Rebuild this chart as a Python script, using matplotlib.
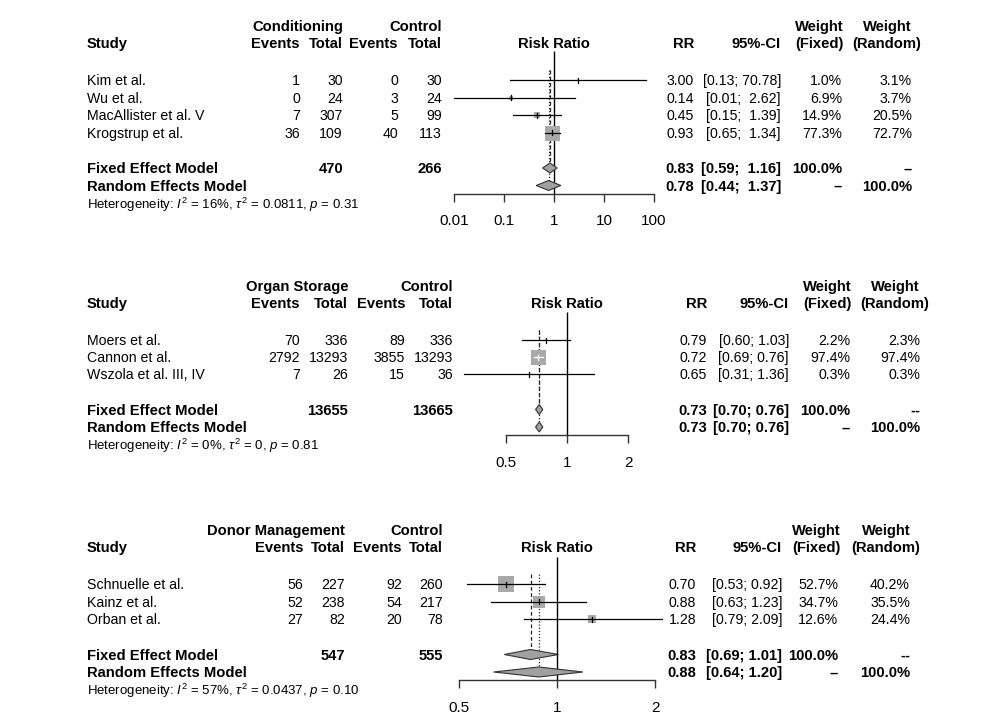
import numpy as np
import matplotlib
matplotlib.use('Agg')
from matplotlib import pyplot as plt
from matplotlib.ticker import NullLocator

plt.rcParams['font.family'] = ['Liberation Sans', 'DejaVu Sans']
plt.rcParams['mathtext.fontset'] = 'custom'
plt.rcParams['mathtext.rm'] = 'Liberation Sans'
plt.rcParams['mathtext.it'] = 'Liberation Sans:italic'
plt.rcParams['mathtext.bf'] = 'Liberation Sans:bold'

### Panel 1: conditioning ###
cond_group = 'Conditioning'
cond_studies = ['Kim et al.', 'Wu et al.', 'MacAllister et al. V', 'Krogstrup et al.']
cond_events = [1, 0, 7, 36]
cond_total = [30, 24, 307, 109]
cond_ctrl_events = [0, 3, 5, 40]
cond_ctrl_total = [30, 24, 99, 113]
cond_rr = [3.00, 0.14, 0.45, 0.93]
cond_lower = [0.13, 0.01, 0.15, 0.65]
cond_upper = [70.78, 2.62, 1.39, 1.34]
cond_w_fixed = [1.0, 6.9, 14.9, 77.3]
cond_w_random = [3.1, 3.7, 20.5, 72.7]
cond_fixed = [0.83, 0.59, 1.16]
cond_random = [0.78, 0.44, 1.37]
cond_n = [470, 266]
cond_dashes = ['\u2013', '\u2013']
cond_het = r'Heterogeneity: $I^2$ = 16%, $\tau^2$ = 0.0811, $p$ = 0.31'
cond_ticks = [0.01, 0.1, 1, 10, 100]
cond_ticklabels = ['0.01', '0.1', '1', '10', '100']

### Panel 2: organ storage ###
stor_group = 'Organ Storage'
stor_studies = ['Moers et al.', 'Cannon et al.', 'Wszola et al. III, IV']
stor_events = [70, 2792, 7]
stor_total = [336, 13293, 26]
stor_ctrl_events = [89, 3855, 15]
stor_ctrl_total = [336, 13293, 36]
stor_rr = [0.79, 0.72, 0.65]
stor_lower = [0.60, 0.69, 0.31]
stor_upper = [1.03, 0.76, 1.36]
stor_w_fixed = [2.2, 97.4, 0.3]
stor_w_random = [2.3, 97.4, 0.3]
stor_fixed = [0.73, 0.70, 0.76]
stor_random = [0.73, 0.70, 0.76]
stor_n = [13655, 13665]
stor_dashes = ['--', '\u2013']
stor_het = r'Heterogeneity: $I^2$ = 0%, $\tau^2$ = 0, $p$ = 0.81'
stor_ticks = [0.5, 1, 2]
stor_ticklabels = ['0.5', '1', '2']

### Panel 3: donor management ###
don_group = 'Donor Management'
don_studies = ['Schnuelle et al.', 'Kainz et al.', 'Orban et al.']
don_events = [56, 52, 27]
don_total = [227, 238, 82]
don_ctrl_events = [92, 54, 20]
don_ctrl_total = [260, 217, 78]
don_rr = [0.70, 0.88, 1.28]
don_lower = [0.53, 0.63, 0.79]
don_upper = [0.92, 1.23, 2.09]
don_w_fixed = [52.7, 34.7, 12.6]
don_w_random = [40.2, 35.5, 24.4]
don_fixed = [0.83, 0.69, 1.01]
don_random = [0.88, 0.64, 1.20]
don_n = [547, 555]
don_dashes = ['--', '\u2013']
don_het = r'Heterogeneity: $I^2$ = 57%, $\tau^2$ = 0.0437, $p$ = 0.10'
don_ticks = [0.5, 1, 2]
don_ticklabels = ['0.5', '1', '2']

W, H = 1000, 726
BOX_GREY = '#a9a9a9'
DIAM_GREY = '#a0a0a0'


def panel_data(group, studies, ev, tot, cev, ctot, rr, lo, hi, wf, wr,
               fixed, random, n, dashes, het, ticks, ticklabels):
    return dict(group=group, studies=studies, ev=ev, tot=tot, cev=cev, ctot=ctot,
                rr=rr, lo=lo, hi=hi, wf=wf, wr=wr, fixed=fixed, random=random,
                n=n, dashes=dashes, het=het, ticks=ticks, ticklabels=ticklabels)


panels = [
    (panel_data(cond_group, cond_studies, cond_events, cond_total, cond_ctrl_events,
                cond_ctrl_total, cond_rr, cond_lower, cond_upper, cond_w_fixed,
                cond_w_random, cond_fixed, cond_random, cond_n, cond_dashes, cond_het,
                cond_ticks, cond_ticklabels),
     dict(y0=80, step=17.5, cols=[300, 343, 398, 442], rr=694, ci=781, wf=842, wr=912,
          wf_h=819, wr_h=887, c=554, k=50, fx=(430, 690), vtop=51, box=15)),
    (panel_data(stor_group, stor_studies, stor_events, stor_total, stor_ctrl_events,
                stor_ctrl_total, stor_rr, stor_lower, stor_upper, stor_w_fixed,
                stor_w_random, stor_fixed, stor_random, stor_n, stor_dashes, stor_het,
                stor_ticks, stor_ticklabels),
     dict(y0=340, step=17, cols=[300, 348, 405, 453], rr=707, ci=789, wf=850, wr=920,
          wf_h=827, wr_h=895, c=567, k=203, fx=(440, 690), vtop=312, box=15)),
    (panel_data(don_group, don_studies, don_events, don_total, don_ctrl_events,
                don_ctrl_total, don_rr, don_lower, don_upper, don_w_fixed,
                don_w_random, don_fixed, don_random, don_n, don_dashes, don_het,
                don_ticks, don_ticklabels),
     dict(y0=584, step=17.5, cols=[303, 345, 402, 443], rr=696, ci=782, wf=838, wr=910,
          wf_h=816, wr_h=886, c=557, k=327, fx=(430, 690), vtop=557, box=16)),
]

fig = plt.figure(figsize=(W / 100, H / 100), dpi=100)
fig.patch.set_facecolor('white')
tx = fig.add_axes([0, 0, 1, 1])
tx.set_xlim(0, W)
tx.set_ylim(H, 0)
tx.axis('off')

FS = 10.2
FS_BOLD = 10.6


def put(x, y, s, ha='right', bold=False, size=None):
    if size is None:
        size = FS_BOLD if bold else FS
    tx.text(x, y + 0.5 * size * 0.716 * 100 / 72, s, ha=ha, va='baseline', fontsize=size,
            fontweight='bold' if bold else 'normal', color='black')


for d, lay in panels:
    n = len(d['studies'])
    ys = [lay['y0'] + i * lay['step'] for i in range(n)]
    y_fix = ys[-1] + 35.5
    y_ran = y_fix + 17.5
    y_het = y_ran + 18.5
    y_h2 = lay['y0'] - 37
    y_h1 = lay['y0'] - 54.5
    c_ev, c_tot, c_cev, c_ctot = lay['cols']

    # headers
    put(c_tot, y_h1, d['group'], bold=True)
    put(c_ctot, y_h1, 'Control', bold=True)
    put(lay['wf_h'], y_h1, 'Weight', ha='center', bold=True)
    put(lay['wr_h'], y_h1, 'Weight', ha='center', bold=True)
    put(87, y_h2, 'Study', ha='left', bold=True)
    put(c_ev, y_h2, 'Events', bold=True)
    put(c_tot, y_h2, 'Total', bold=True)
    put(c_cev, y_h2, 'Events', bold=True)
    put(c_ctot, y_h2, 'Total', bold=True)
    put(lay['c'], y_h2, 'Risk Ratio', ha='center', bold=True)
    put(lay['rr'], y_h2, 'RR', bold=True)
    put(lay['ci'], y_h2, '95%-CI', bold=True)
    put(lay['wf_h'], y_h2, '(Fixed)', ha='center', bold=True)
    put(lay['wr_h'], y_h2, '(Random)', ha='center', bold=True)

    wid = max(len(f'{v:.2f}') for v in d['hi'] + [d['fixed'][2], d['random'][2]])

    def ci_str(lo, hi):
        return f'[{lo:.2f}; {hi:>{wid}.2f}]'

    for i, y in enumerate(ys):
        put(87, y, d['studies'][i], ha='left')
        put(c_ev, y, str(d['ev'][i]))
        put(c_tot, y, str(d['tot'][i]))
        put(c_cev, y, str(d['cev'][i]))
        put(c_ctot, y, str(d['ctot'][i]))
        put(lay['rr'], y, f"{d['rr'][i]:.2f}")
        put(lay['ci'], y, ci_str(d['lo'][i], d['hi'][i]))
        put(lay['wf'], y, f"{d['wf'][i]:.1f}%")
        put(lay['wr'], y, f"{d['wr'][i]:.1f}%")

    put(87, y_fix, 'Fixed Effect Model', ha='left', bold=True)
    put(c_tot, y_fix, str(d['n'][0]), bold=True)
    put(c_ctot, y_fix, str(d['n'][1]), bold=True)
    put(lay['rr'], y_fix, f"{d['fixed'][0]:.2f}", bold=True)
    put(lay['ci'], y_fix, ci_str(d['fixed'][1], d['fixed'][2]), bold=True)
    put(lay['wf'], y_fix, '100.0%', bold=True)
    put(lay['wr'], y_fix, d['dashes'][0], bold=True)

    put(87, y_ran, 'Random Effects Model', ha='left', bold=True)
    put(lay['rr'], y_ran, f"{d['random'][0]:.2f}", bold=True)
    put(lay['ci'], y_ran, ci_str(d['random'][1], d['random'][2]), bold=True)
    put(lay['wf'], y_ran, d['dashes'][1], bold=True)
    put(lay['wr'], y_ran, '100.0%', bold=True)

    put(87, y_het, d['het'], ha='left', size=9.5)

    # forest plot axes, y in figure pixels, x on log scale
    axis_y = y_ran + 8
    L, R = lay['fx']
    T = lay['vtop'] - 5
    ax = fig.add_axes([L / W, 1 - axis_y / H, (R - L) / W, (axis_y - T) / H])
    ax.patch.set_visible(False)
    ax.set_xscale('log')
    ax.set_xlim(10 ** ((L - lay['c']) / lay['k']), 10 ** ((R - lay['c']) / lay['k']))
    ax.set_ylim(axis_y, T)
    for s in ['top', 'left', 'right']:
        ax.spines[s].set_visible(False)
    ax.spines['bottom'].set_bounds(d['ticks'][0], d['ticks'][-1])
    ax.spines['bottom'].set_linewidth(1.0)
    ax.spines['bottom'].set_color('#333333')
    ax.set_xticks(d['ticks'])
    ax.set_xticklabels(d['ticklabels'])
    ax.xaxis.set_minor_locator(NullLocator())
    ax.set_yticks([])
    ax.tick_params(axis='x', direction='out', length=6, width=1.0, color='#333333',
                   labelsize=11, pad=9)

    ax.vlines(1, lay['vtop'], axis_y, colors='black', lw=1.0, zorder=1)
    ax.vlines(d['fixed'][0], ys[0] - 10, y_fix - 5, colors='#222222', lw=0.9,
              linestyles=(0, (3, 2)), zorder=1)
    ax.vlines(d['random'][0], ys[0] - 10, y_ran - 5, colors='#222222', lw=0.9,
              linestyles=(0, (1, 1.5)), zorder=1)

    wmax = max(d['wf'])
    for i, y in enumerate(ys):
        side = lay['box'] * np.sqrt(d['wf'][i] / wmax)
        ax.scatter([d['rr'][i]], [y], s=(side * 0.72) ** 2, marker='s', c=BOX_GREY,
                   linewidths=0, zorder=2, clip_on=False)
        ci_px = lay['k'] * np.log10(d['hi'][i] / d['lo'][i])
        col = 'white' if side >= ci_px else 'black'
        ax.plot([d['lo'][i], d['hi'][i]], [y, y], color=col, lw=0.9, zorder=3,
                clip_on=False)
        ax.plot([d['rr'][i], d['rr'][i]], [y - 2.5, y + 2.5], color=col, lw=0.9,
                zorder=3, clip_on=False)

    for est, y in [(d['fixed'], y_fix), (d['random'], y_ran)]:
        ax.fill([est[1], est[0], est[2], est[0]], [y, y - 5, y, y + 5],
                facecolor=DIAM_GREY, edgecolor='#333333', lw=0.8, zorder=3,
                clip_on=False)

fig.savefig('out.png', dpi=100, facecolor='white')
